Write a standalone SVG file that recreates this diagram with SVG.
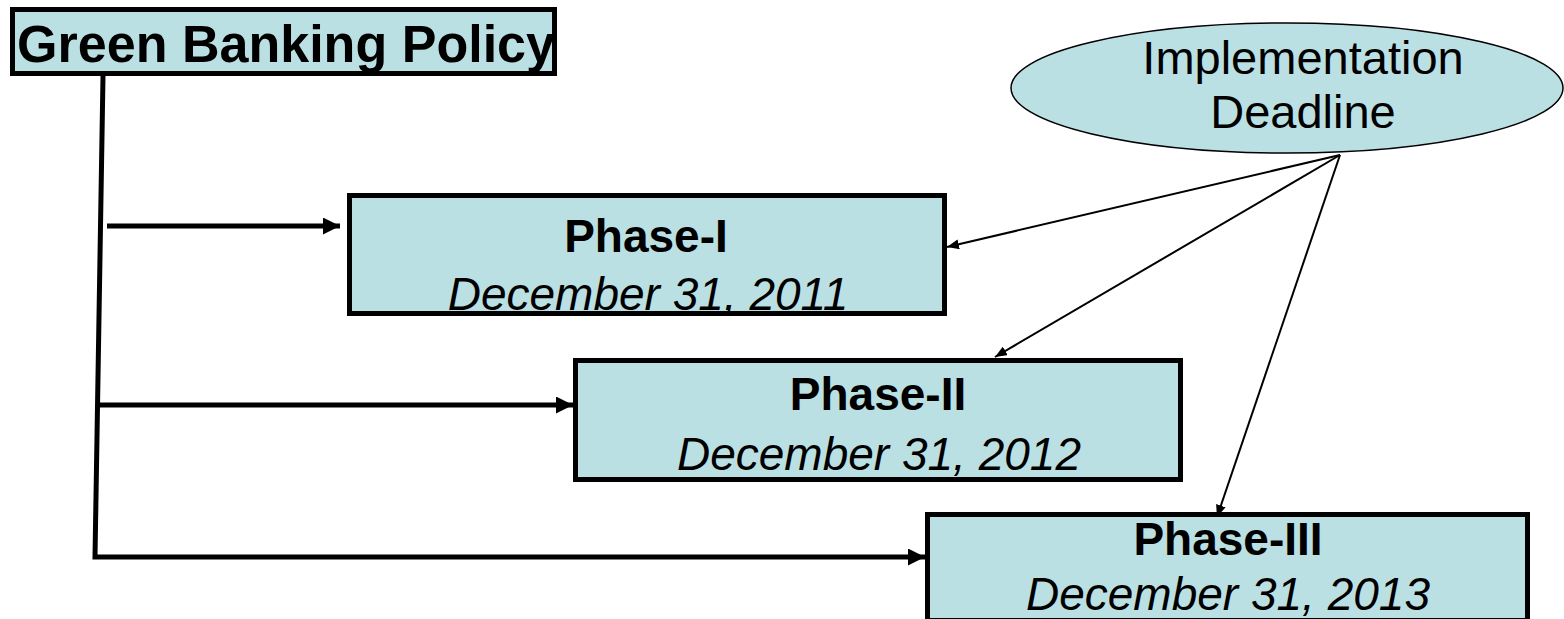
<svg xmlns="http://www.w3.org/2000/svg" width="1564" height="619" viewBox="0 0 1564 619">
<defs>
<style>
.box{fill:#BBE0E3;stroke:#000;stroke-width:5}
.t{font-family:"Liberation Sans",Arial,sans-serif;fill:#000;text-anchor:middle}
.b{font-weight:bold}
.i{font-style:italic}
.thick{stroke:#000;stroke-width:5;fill:none}
.thin{stroke:#000;stroke-width:2;fill:none}
</style>
<marker id="ah" viewBox="0 0 10 10" refX="10" refY="5" markerWidth="3.4" markerHeight="3.4" markerUnits="strokeWidth" orient="auto" preserveAspectRatio="none">
<path d="M0,0 L10,5 L0,10 z" fill="#000"/>
</marker>
<marker id="ahs" viewBox="0 0 10 10" refX="10" refY="5" markerWidth="6" markerHeight="5" markerUnits="strokeWidth" orient="auto" preserveAspectRatio="none">
<path d="M0,0 L10,5 L0,10 z" fill="#000"/>
</marker>
</defs>
<rect width="1564" height="619" fill="#fff"/>
<g id="connectors">
<polyline class="thick" points="103,76 95,557 925,557" marker-end="url(#ah)"/>
<line class="thick" x1="97" y1="405" x2="573" y2="405" marker-end="url(#ah)"/>
<line class="thick" x1="107" y1="226" x2="340" y2="226" marker-end="url(#ah)"/>
<line class="thin" x1="1340" y1="155" x2="947" y2="247" marker-end="url(#ahs)"/>
<line class="thin" x1="1340" y1="155" x2="995" y2="357" marker-end="url(#ahs)"/>
<line class="thin" x1="1340" y1="155" x2="1217" y2="517" marker-end="url(#ahs)"/>
</g>
<g id="green-banking-policy">
<rect class="box" x="12.5" y="9.5" width="542" height="64"/>
<text class="t b" x="286" y="62" font-size="51" textLength="538" lengthAdjust="spacingAndGlyphs">Green Banking Policy</text>
</g>
<g id="implementation-deadline">
<ellipse cx="1287" cy="88" rx="276" ry="65" fill="#BBE0E3" stroke="#000" stroke-width="1.5"/>
<text class="t" x="1303" y="74" font-size="47">Implementation</text>
<text class="t" x="1303" y="128" font-size="47">Deadline</text>
</g>
<g id="phase-1">
<rect class="box" x="349.5" y="195.5" width="595" height="118"/>
<text class="t b" x="646" y="252" font-size="46">Phase-I</text>
<text class="t i" x="648" y="310" font-size="46">December 31, 2011</text>
</g>
<g id="phase-2">
<rect class="box" x="575.5" y="360.5" width="605" height="119"/>
<text class="t b" x="878" y="410" font-size="46">Phase-II</text>
<text class="t i" x="879" y="470" font-size="46">December 31, 2012</text>
</g>
<g id="phase-3">
<rect class="box" x="927.5" y="514.5" width="600" height="106"/>
<text class="t b" x="1228" y="555" font-size="46">Phase-III</text>
<text class="t i" x="1228" y="610" font-size="46">December 31, 2013</text>
</g>
</svg>
